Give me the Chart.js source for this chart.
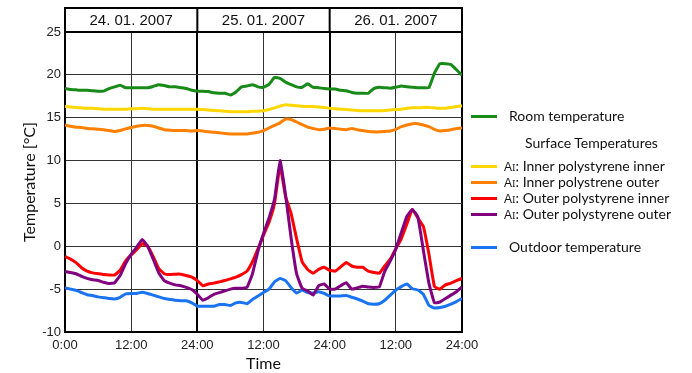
<!DOCTYPE html>
<html>
<head>
<meta charset="utf-8">
<script src="https://cdn.jsdelivr.net/npm/chart.js@4/dist/chart.umd.min.js"></script>
<style>
  body { margin: 0; background: #fff; }
  #wrap { position: relative; width: 692px; height: 373px; }
  .leg { position: absolute; font-family: Lato, sans-serif; font-size: 14px; color: #111; white-space: nowrap; line-height: 16px; }
  .sw { position: absolute; left: 471px; width: 26px; height: 3px; }
  .ai { font-family: 'Liberation Sans', sans-serif; font-size: 12px; }
  .ai small { font-family: 'DejaVu Serif', serif; font-size: 9px; }
</style>
</head>
<body>
<div id="wrap">
  <canvas id="tempChart" width="692" height="373"></canvas>
</div>
<script>
// hours since 24.01.2007 0:00
const hours = [0,1,2,3,4,5,6,7,8,9,10,11,12,13,14,15,16,17,18,19,20,21,22,23,24,
  25,26,27,28,29,30,31,32,33,34,35,36,37,38,39,40,41,42,43,44,45,46,47,48,
  49,50,51,52,53,54,55,56,57,58,59,60,61,62,63,64,65,66,67,68,69,70,71,72];
const days = ['24. 01. 2007', '25. 01. 2007', '26. 01. 2007'];

const roomTemp = [18.4,18.3,18.25,18.2,18.2,18.15,18.1,18.1,18.4,18.6,18.8,18.5,18.5,18.5,18.5,18.5,18.65,18.85,18.75,18.6,18.6,18.5,18.4,18.2,18.1,
  18.1,18.05,17.9,17.85,17.85,17.65,18.0,18.6,18.7,18.85,18.6,18.55,18.9,19.7,19.6,19.15,18.85,18.6,18.55,18.95,18.55,18.5,18.4,18.35,
  18.35,18.2,18.15,17.95,17.85,17.85,17.85,18.4,18.55,18.5,18.45,18.55,18.7,18.6,18.55,18.5,18.5,18.5,20.2,21.3,21.3,21.2,20.6,19.95];
const innerInner = [16.3,16.25,16.2,16.15,16.1,16.1,16.05,16.0,16.0,16.0,16.0,16.0,16.05,16.05,16.1,16.05,16.0,16.0,16.0,16.0,16.0,16.0,16.0,16.0,16.0,
  15.95,15.9,15.85,15.8,15.75,15.7,15.7,15.7,15.7,15.75,15.75,15.8,15.95,16.15,16.35,16.5,16.45,16.4,16.35,16.3,16.3,16.25,16.2,16.1,
  16.05,16.0,15.95,15.9,15.85,15.8,15.8,15.8,15.8,15.85,15.9,15.95,16.0,16.1,16.15,16.15,16.2,16.2,16.15,16.1,16.1,16.2,16.3,16.4];
const innerOuter = [14.15,14.0,13.9,13.85,13.75,13.7,13.65,13.6,13.5,13.4,13.5,13.7,13.85,14.0,14.1,14.1,14.0,13.8,13.6,13.55,13.5,13.5,13.5,13.45,13.5,
  13.45,13.35,13.3,13.25,13.15,13.1,13.1,13.1,13.1,13.2,13.3,13.5,13.8,14.1,14.4,14.85,14.8,14.5,14.2,13.9,13.75,13.6,13.65,13.8,
  13.75,13.65,13.6,13.75,13.6,13.5,13.4,13.35,13.35,13.4,13.45,13.65,13.95,14.15,14.3,14.3,14.15,13.95,13.65,13.45,13.5,13.6,13.75,13.8];
const outerInner = [-1.2,-1.5,-1.9,-2.5,-2.9,-3.1,-3.2,-3.3,-3.35,-3.35,-2.8,-1.7,-1.0,-0.4,0.3,0.0,-1.2,-2.6,-3.2,-3.3,-3.25,-3.25,-3.4,-3.6,-4.0,
  -4.6,-4.4,-4.3,-4.15,-4.0,-3.8,-3.6,-3.3,-2.9,-1.8,-0.3,1.3,2.8,5.0,9.4,5.8,3.85,0.9,-1.8,-2.7,-3.15,-2.7,-2.45,-2.8,
  -2.9,-2.4,-1.9,-2.3,-2.45,-2.45,-2.9,-3.05,-3.15,-2.3,-1.5,-0.3,0.9,2.6,4.3,3.3,2.3,-0.9,-4.7,-5.0,-4.5,-4.3,-4.0,-3.75];
const outerOuter = [-2.95,-3.05,-3.2,-3.5,-3.75,-3.9,-4.0,-4.2,-4.35,-4.25,-3.4,-2.0,-0.95,-0.1,0.8,0.0,-1.5,-3.1,-4.0,-4.3,-4.5,-4.6,-4.8,-5.05,-5.6,
  -6.3,-6.0,-5.6,-5.4,-5.2,-5.0,-4.9,-4.9,-4.8,-3.2,-0.55,1.5,3.3,5.5,10.0,6.0,1.0,-3.2,-4.9,-5.2,-5.7,-4.6,-4.4,-5.0,
  -5.0,-4.6,-4.25,-5.0,-4.85,-4.65,-4.75,-4.8,-4.75,-2.9,-1.7,-0.3,1.6,3.5,4.3,3.4,-0.5,-4.3,-6.6,-6.5,-6.1,-5.7,-5.3,-4.75];
const outdoor = [-4.85,-5.0,-5.15,-5.4,-5.65,-5.75,-5.9,-6.0,-6.1,-6.15,-5.95,-5.55,-5.5,-5.5,-5.35,-5.5,-5.7,-5.9,-6.1,-6.2,-6.3,-6.35,-6.35,-6.6,-7.0,
  -7.0,-7.0,-7.0,-6.8,-6.8,-6.9,-6.6,-6.55,-6.7,-6.2,-5.8,-5.4,-5.0,-4.15,-3.75,-4.0,-4.8,-5.45,-5.1,-5.4,-5.45,-5.3,-5.5,-5.8,
  -5.8,-5.8,-5.75,-5.95,-6.15,-6.4,-6.7,-6.75,-6.7,-6.3,-5.7,-5.1,-4.7,-4.4,-4.95,-5.1,-5.6,-6.9,-7.2,-7.15,-7.0,-6.75,-6.45,-6.1];

const yTicks = [-10, -5, 0, 5, 10, 15, 20, 25];

const green = '#178a17', yellow = '#ffd700', orange = '#ff8000', red = '#ff0000', purple = '#800080', blue = '#1a74f2';

function pts(vals) { return hours.map((h, i) => ({ x: h, y: vals[i] })); }

// legend, as html next to the chart
const legendRows = [
  { color: green, y: 116, text: 'Room temperature', ai: false },
  { color: yellow, y: 166, text: 'Inner polystyrene inner', ai: true },
  { color: orange, y: 182, text: 'Inner polystrene outer', ai: true },
  { color: red, y: 198, text: 'Outer polystyrene inner', ai: true },
  { color: purple, y: 214, text: 'Outer polystyrene outer', ai: true },
  { color: blue, y: 247, text: 'Outdoor temperature', ai: false },
];
const wrap = document.getElementById('wrap');
legendRows.forEach(r => {
  const sw = document.createElement('div');
  sw.className = 'sw';
  sw.style.top = (r.y - 1.5) + 'px';
  sw.style.background = r.color;
  wrap.appendChild(sw);
  const t = document.createElement('div');
  t.className = 'leg';
  t.style.top = (r.y - 8) + 'px';
  if (r.ai) {
    t.style.left = '504px';
    t.innerHTML = '<span class="ai">A<small>I</small></span>: ' + r.text;
  } else {
    t.style.left = '509px';
    t.textContent = r.text;
  }
  wrap.appendChild(t);
});
const sub = document.createElement('div');
sub.className = 'leg';
sub.style.left = '525px';
sub.style.top = '135px';
sub.textContent = 'Surface Temperatures';
wrap.appendChild(sub);

// date boxes above the plot
const headerPlugin = {
  id: 'header',
  afterDraw(chart) {
    const { ctx, chartArea, scales: { x } } = chart;
    const top = 8;
    ctx.save();
    ctx.strokeStyle = '#000';
    ctx.lineWidth = 2;
    const x0 = x.getPixelForValue(0), x1 = x.getPixelForValue(72);
    ctx.strokeRect(x0, top, x1 - x0, chartArea.top - top);
    ctx.font = '15px "Liberation Sans", Arial, sans-serif';
    ctx.fillStyle = '#111';
    ctx.textAlign = 'center';
    ctx.textBaseline = 'middle';
    days.forEach((d, i) => {
      const a = x.getPixelForValue(i * 24), b = x.getPixelForValue(i * 24 + 24);
      if (i > 0) {
        ctx.beginPath();
        ctx.moveTo(a, top);
        ctx.lineTo(a, chartArea.top);
        ctx.stroke();
      }
      ctx.fillText(d, (a + b) / 2, 21);
    });
    ctx.restore();
  }
};

new Chart('tempChart', {
  type: 'line',
  data: {
    datasets: [
      { data: pts(outerOuter), borderColor: purple },
      { data: pts(outerInner), borderColor: red },
      { data: pts(outdoor), borderColor: blue },
      { data: pts(innerOuter), borderColor: orange },
      { data: pts(innerInner), borderColor: yellow },
      { data: pts(roomTemp), borderColor: green },
    ],
  },
  options: {
    responsive: false,
    animation: false,
    layout: { padding: { top: 32, right: 230, left: 0, bottom: 0 } },
    plugins: { legend: { display: false }, tooltip: { enabled: false } },
    elements: { point: { radius: 0 }, line: { borderWidth: 3, tension: 0.1 } },
    scales: {
      x: {
        type: 'linear',
        min: 0,
        max: 72,
        afterBuildTicks: s => { s.ticks = [0, 12, 24, 36, 48, 60, 72].map(v => ({ value: v })); },
        afterFit: s => { s.height = 41; },
        ticks: {
          autoSkip: false,
          maxRotation: 0,
          padding: 6,
          color: '#222',
          font: { family: 'Liberation Sans', size: 13 },
          callback: v => (v === 0 ? '0:00' : v % 24 === 0 ? '24:00' : '12:00'),
        },
        grid: {
          drawTicks: false,
          color: c => (c.tick.value % 24 === 0 ? '#000' : '#333'),
          lineWidth: c => (c.tick.value % 24 === 0 ? 2 : 1),
        },
        border: { color: '#000', width: 2 },
        title: { display: true, text: 'Time', color: '#111', font: { family: 'Lato', size: 16 }, padding: 0 },
      },
      y: {
        min: -10,
        max: 25,
        afterBuildTicks: s => { s.ticks = yTicks.map(v => ({ value: v })); },
        afterFit: s => { s.width = 65; },
        ticks: { padding: 4, color: '#222', font: { family: 'Liberation Sans', size: 13 } },
        grid: {
          drawTicks: false,
          color: c => (c.tick.value === 25 ? '#000' : '#333'),
          lineWidth: c => (c.tick.value === 25 ? 2 : 1),
        },
        border: { color: '#000', width: 2 },
        title: { display: true, text: 'Temperature [°C]', color: '#111', font: { family: 'Lato', size: 16 }, padding: { top: 20, bottom: 0 } },
      },
    },
  },
  plugins: [headerPlugin],
});
</script>
</body>
</html>
